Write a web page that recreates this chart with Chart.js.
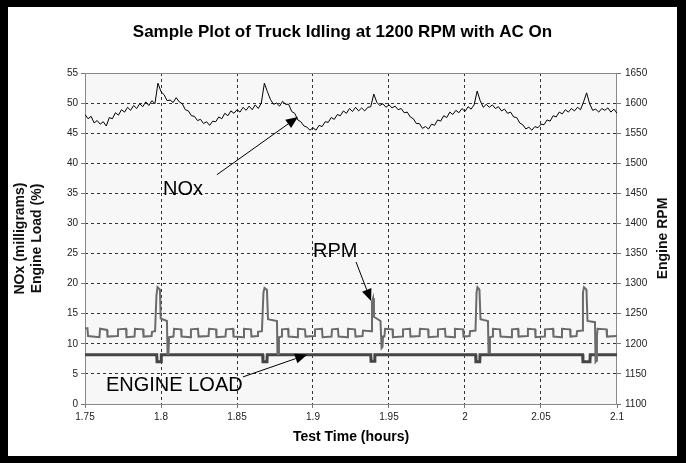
<!DOCTYPE html>
<html>
<head>
<meta charset="utf-8">
<script src="https://cdn.jsdelivr.net/npm/chart.js@4.4.1/dist/chart.umd.min.js"></script>
<style>
  html, body { margin: 0; padding: 0; background: #fff; }
</style>
</head>
<body>
<canvas id="chart1" width="686" height="463"></canvas>
<script>
/* Truck idling chart */
const ctx = document.getElementById('chart1');

const xTickValues = [1.75, 1.8, 1.85, 1.9, 1.95, 2, 2.05, 2.1];
const leftTickValues = [0, 5, 10, 15, 20, 25, 30, 35, 40, 45, 50, 55];
const rightTickValues = [1100, 1150, 1200, 1250, 1300, 1350, 1400, 1450, 1500, 1550, 1600, 1650];

// NOx, sampled every 0.002 h from 1.75 h
const noxStart = 1.75;
const noxStep = 0.002;
const noxValues = [
    48.1, 47.4, 47.8, 46.7, 47.1, 46.5, 46.9, 46.2, 47.6, 47.4,
    48.4, 48.0, 48.9, 48.5, 49.3, 48.8, 49.6, 49.1, 49.9, 49.4,
    50.2, 49.6, 50.4, 49.9, 53.3, 51.9, 51.4, 50.4, 50.5, 50.1,
    50.9, 50.2, 49.9, 48.9, 48.7, 47.9, 47.8, 47.1, 47.3, 46.6,
    46.9, 46.3, 47.0, 46.9, 47.7, 47.4, 48.3, 47.9, 48.7, 48.3,
    48.9, 48.5, 49.3, 48.8, 49.5, 48.9, 49.7, 49.1, 50.0, 53.3,
    51.9, 50.6, 49.8, 50.0, 49.5, 50.3, 49.8, 49.8, 48.6, 48.3,
    47.2, 46.9, 46.2, 46.0, 45.5, 45.9, 45.5, 46.3, 46.1, 46.9,
    46.8, 47.6, 47.3, 48.1, 47.9, 48.7, 48.3, 49.1, 48.6, 49.3,
    48.7, 49.2, 48.7, 49.3, 49.4, 51.5, 50.1, 49.6, 49.9, 49.3,
    49.7, 49.2, 49.5, 48.9, 49.1, 48.4, 48.5, 47.7, 47.4, 46.6,
    46.6, 45.8, 46.1, 45.7, 46.5, 46.3, 47.2, 47.0, 47.9, 47.6,
    48.5, 48.1, 48.8, 48.4, 49.1, 48.6, 49.4, 49.0, 49.7, 52.0,
    50.4, 49.3, 49.8, 49.3, 49.7, 49.1, 49.4, 48.7, 49.0, 48.3,
    48.5, 47.7, 47.6, 46.7, 46.4, 45.7, 46.0, 45.5, 46.1, 45.9,
    46.5, 46.4, 47.2, 47.0, 47.9, 47.7, 48.5, 48.2, 48.9, 48.5,
    49.1, 48.7, 49.3, 48.9, 50.2, 51.7, 49.9, 48.8, 49.0, 48.5,
    49.1, 48.8, 49.2, 48.5, 49.0, 48.3
];

// Engine RPM, change points
const rpmTimes = [
    1.7500, 1.7516, 1.7520, 1.7595, 1.7599, 1.7645, 1.7648, 1.7714, 1.7717, 1.7770,
    1.7773, 1.7826, 1.7829, 1.7882, 1.7885, 1.7938, 1.7941, 1.7961, 1.7970, 1.7977,
    1.7993, 1.7998, 1.8039, 1.8043, 1.8049, 1.8053, 1.8082, 1.8086, 1.8132, 1.8135,
    1.8194, 1.8197, 1.8243, 1.8247, 1.8313, 1.8316, 1.8362, 1.8365, 1.8424, 1.8428,
    1.8474, 1.8477, 1.8543, 1.8546, 1.8592, 1.8595, 1.8635, 1.8638, 1.8664, 1.8674,
    1.8681, 1.8697, 1.8704, 1.8763, 1.8766, 1.8773, 1.8776, 1.8793, 1.8796, 1.8836,
    1.8839, 1.8898, 1.8901, 1.8947, 1.8951, 1.9010, 1.9013, 1.9059, 1.9063, 1.9122,
    1.9125, 1.9164, 1.9168, 1.9227, 1.9230, 1.9276, 1.9280, 1.9326, 1.9329, 1.9382,
    1.9388, 1.9395, 1.9401, 1.9444, 1.9451, 1.9457, 1.9461, 1.9470, 1.9474, 1.9523,
    1.9526, 1.9589, 1.9592, 1.9638, 1.9641, 1.9701, 1.9704, 1.9757, 1.9760, 1.9819,
    1.9822, 1.9868, 1.9872, 1.9931, 1.9934, 1.9987, 1.9990, 2.0030, 2.0033, 2.0069,
    2.0076, 2.0082, 2.0095, 2.0102, 2.0151, 2.0155, 2.0161, 2.0164, 2.0181, 2.0184,
    2.0230, 2.0234, 2.0306, 2.0309, 2.0349, 2.0352, 2.0411, 2.0414, 2.0461, 2.0464,
    2.0523, 2.0526, 2.0579, 2.0582, 2.0635, 2.0638, 2.0691, 2.0694, 2.0734, 2.0737,
    2.0770, 2.0776, 2.0783, 2.0799, 2.0806, 2.0855, 2.0859, 2.0865, 2.0868, 2.0872,
    2.0931, 2.0934, 2.1000
];
const rpmValues = [
    1226, 1226, 1213, 1211, 1225, 1223, 1212, 1213, 1224, 1225,
    1211, 1212, 1225, 1224, 1212, 1213, 1220, 1221, 1280, 1294,
    1290, 1242, 1238, 1183, 1183, 1211, 1212, 1225, 1224, 1212,
    1211, 1224, 1225, 1212, 1213, 1225, 1224, 1211, 1212, 1224,
    1225, 1212, 1211, 1225, 1224, 1212, 1213, 1220, 1221, 1285,
    1293, 1290, 1241, 1238, 1183, 1183, 1211, 1212, 1224, 1225,
    1212, 1211, 1225, 1224, 1212, 1213, 1224, 1225, 1211, 1212,
    1224, 1225, 1212, 1211, 1225, 1224, 1212, 1213, 1222, 1221,
    1270, 1276, 1245, 1238, 1193, 1195, 1212, 1212, 1225, 1224,
    1211, 1212, 1224, 1225, 1212, 1213, 1225, 1224, 1211, 1212,
    1224, 1225, 1212, 1211, 1225, 1224, 1212, 1213, 1221, 1222,
    1285, 1294, 1290, 1241, 1238, 1185, 1185, 1211, 1212, 1225,
    1224, 1212, 1211, 1224, 1225, 1212, 1213, 1225, 1224, 1211,
    1212, 1224, 1225, 1212, 1211, 1225, 1224, 1212, 1213, 1221,
    1222, 1285, 1294, 1290, 1238, 1236, 1170, 1172, 1212, 1225,
    1224, 1212, 1213
];

// Engine load (%), change points
const loadTimes = [
    1.7500, 1.7972, 1.7974, 1.8000, 1.8002, 1.8669, 1.8671, 1.8697, 1.8699, 1.9380,
    1.9382, 1.9405, 1.9407, 2.0070, 2.0072, 2.0097, 2.0099, 2.0774, 2.0776, 2.0822,
    2.0824, 2.1000
];
const loadValues = [
    8.2, 8.2, 7.0, 7.0, 8.2, 8.2, 7.0, 7.0, 8.2, 8.2,
    7.1, 7.1, 8.2, 8.2, 7.0, 7.0, 8.2, 8.2, 7.0, 7.0,
    8.2, 8.2
];

// callouts: text anchor, arrow start, arrow tip (data units, left axis)
const noteTexts = ['NOx', 'RPM', 'ENGINE LOAD'];
const noteAt = [[1.8013, 34.7], [1.9, 24.4], [1.7638, 2.2]];
const arrowFrom = [[1.8368, 38.1], [1.9283, 23.6], [1.8539, 4.5]];
const arrowTo = [[1.8901, 47.7], [1.9382, 17.1], [1.8961, 8.2]];

const FONT = "'Liberation Sans', Arial, sans-serif";

const data = {
    datasets: [
        {
            label: 'NOx',
            data: noxValues.map((v, i) => ({ x: noxStart + i * noxStep, y: v })),
            yAxisID: 'y',
            borderColor: '#000',
            borderWidth: 1,
            pointRadius: 0,
            order: 0
        },
        {
            label: 'RPM',
            data: rpmTimes.map((t, i) => ({ x: t, y: rpmValues[i] })),
            yAxisID: 'y2',
            borderColor: '#6b6b6b',
            borderWidth: 2,
            pointRadius: 0,
            order: 1
        },
        {
            label: 'Engine Load',
            data: loadTimes.map((t, i) => ({ x: t, y: loadValues[i] })),
            yAxisID: 'y',
            borderColor: '#454545',
            borderWidth: 3,
            pointRadius: 0,
            order: 2
        }
    ]
};

const hideEdge = (list) => (c) => (c.index === 0 || c.index === list.length - 1) ? 'rgba(0,0,0,0)' : '#333';

const framePlugin = {
    id: 'frame',
    beforeDraw(chart) {
        const c = chart.ctx;
        const a = chart.chartArea;
        c.save();
        c.fillStyle = '#000';
        c.fillRect(0, 0, chart.width, chart.height);
        c.fillStyle = '#fff';
        c.fillRect(8, 7, chart.width - 17, chart.height - 14);
        c.fillStyle = '#f7f7f7';
        c.fillRect(a.left, a.top, a.right - a.left, a.bottom - a.top);
        c.restore();
    },
    beforeDatasetsDraw(chart) {
        const c = chart.ctx;
        const a = chart.chartArea;
        c.save();
        c.strokeStyle = '#8a8a8a';
        c.lineWidth = 1;
        c.strokeRect(a.left + 0.5, a.top + 0.5, a.right - a.left - 1, a.bottom - a.top);
        c.restore();
    },
    afterDraw(chart) {
        const c = chart.ctx;
        const a = chart.chartArea;
        const xs = chart.scales.x;
        const ys = chart.scales.y;
        c.save();
        // right axis title
        c.translate(663, (a.top + a.bottom) / 2);
        c.rotate(-Math.PI / 2);
        c.font = 'bold 14px ' + FONT;
        c.fillStyle = '#111';
        c.textAlign = 'center';
        c.textBaseline = 'middle';
        c.fillText('Engine RPM', 0, 0);
        c.restore();

        c.save();
        c.font = '20px ' + FONT;
        c.fillStyle = '#000';
        c.strokeStyle = '#000';
        c.lineWidth = 1;
        c.textBaseline = 'alphabetic';
        noteTexts.forEach((txt, i) => {
            c.fillText(txt, xs.getPixelForValue(noteAt[i][0]), ys.getPixelForValue(noteAt[i][1]));
            const x1 = xs.getPixelForValue(arrowFrom[i][0]);
            const y1 = ys.getPixelForValue(arrowFrom[i][1]);
            const x2 = xs.getPixelForValue(arrowTo[i][0]);
            const y2 = ys.getPixelForValue(arrowTo[i][1]);
            const ang = Math.atan2(y2 - y1, x2 - x1);
            const len = 12, half = 5;
            const bx = x2 - len * Math.cos(ang);
            const by = y2 - len * Math.sin(ang);
            c.beginPath();
            c.moveTo(x1, y1);
            c.lineTo(bx, by);
            c.stroke();
            c.beginPath();
            c.moveTo(x2, y2);
            c.lineTo(bx + half * Math.sin(ang), by - half * Math.cos(ang));
            c.lineTo(bx - half * Math.sin(ang), by + half * Math.cos(ang));
            c.closePath();
            c.fill();
        });
        c.restore();
    }
};

const config = {
    type: 'line',
    data,
    options: {
        responsive: false,
        animation: false,
        layout: { padding: { left: 8, right: 9, top: 7, bottom: 7 } },
        plugins: {
            legend: { display: false },
            tooltip: { enabled: false },
            title: {
                display: true,
                text: 'Sample Plot of Truck Idling at 1200 RPM with AC On',
                color: '#000',
                font: { family: FONT, size: 17, weight: 'bold' },
                padding: { top: 14.8, bottom: 30.8 }
            }
        },
        scales: {
            x: {
                type: 'linear',
                min: 1.75,
                max: 2.1,
                afterFit: (axis) => { axis.height = 52; },
                afterBuildTicks: (axis) => { axis.ticks = xTickValues.map(v => ({ value: v })); },
                ticks: {
                    autoSkip: false,
                    maxRotation: 0,
                    padding: 3,
                    color: '#222',
                    font: { family: FONT, size: 10 },
                    callback: (v) => String(v)
                },
                grid: { color: hideEdge(xTickValues), tickColor: '#777', tickLength: 4, lineWidth: 1 },
                border: { display: false, dash: [3, 3] },
                title: {
                    display: true,
                    text: 'Test Time (hours)',
                    color: '#000',
                    font: { family: FONT, size: 14, weight: 'bold' },
                    padding: { top: 4, bottom: 10.6 }
                }
            },
            y: {
                position: 'left',
                min: 0,
                max: 55,
                afterFit: (axis) => { axis.width = 77; },
                afterBuildTicks: (axis) => { axis.ticks = leftTickValues.map(v => ({ value: v })); },
                ticks: {
                    padding: 3,
                    color: '#222',
                    font: { family: FONT, size: 10 },
                    callback: (v) => String(v)
                },
                grid: { color: hideEdge(leftTickValues), tickColor: '#777', tickLength: 4, lineWidth: 1 },
                border: { display: false, dash: [3, 3] },
                title: {
                    display: true,
                    text: ['NOx (milligrams)', 'Engine Load (%)'],
                    color: '#111',
                    font: { family: FONT, size: 14, weight: 'bold' },
                    padding: { top: 3.6, bottom: 4 }
                }
            },
            y2: {
                position: 'right',
                min: 1100,
                max: 1650,
                afterFit: (axis) => { axis.width = 60; },
                afterBuildTicks: (axis) => { axis.ticks = rightTickValues.map(v => ({ value: v })); },
                ticks: {
                    padding: 4,
                    color: '#222',
                    font: { family: FONT, size: 10 },
                    callback: (v) => String(v)
                },
                grid: { drawOnChartArea: false, tickColor: '#777', tickLength: 4 },
                border: { display: false }
            }
        }
    },
    plugins: [framePlugin]
};

const chart1 = new Chart(ctx, config);
</script>
</body>
</html>
